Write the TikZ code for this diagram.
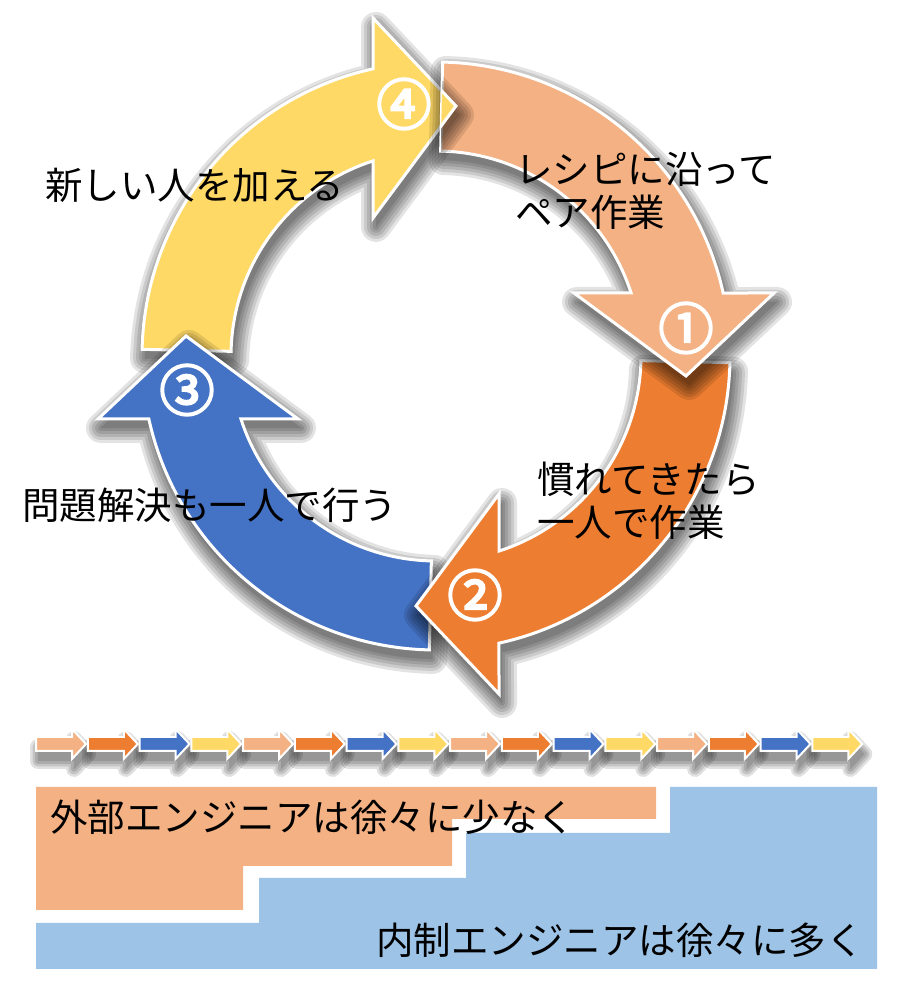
\documentclass[tikz,border=0pt]{standalone}
\usepackage{fontspec}
\newfontfamily\cjk{Noto Sans CJK JP}
\newfontfamily\cjknum{Noto Sans CJK JP}[FakeBold=4]
\definecolor{cpeach}{HTML}{F4B183}
\definecolor{corange}{HTML}{ED7D31}
\definecolor{cblue}{HTML}{4472C4}
\definecolor{cyellow}{HTML}{FFD966}
\definecolor{clight}{HTML}{9DC3E6}

\newcommand\cyclepath{(88.7:205) -- (88.7:294) arc[start angle=88.7,end angle=12.37,radius=294] -- (338,63) -- (250,-20) -- (138,63) -- (17.9:205) arc[start angle=17.9,end angle=88.7,radius=205] -- cycle}
\newcommand\smallpath{(0,7) -- (36,7) -- (36,15) -- (50,0) -- (36,-15) -- (36,-7) -- (0,-7) -- cycle}

\newcommand\bigshadow[1]{%
  \foreach \w in {30,24,18,12,6,0.5}{%
    \begin{scope}[transparency group, opacity=0.11]
      \path (0,0) rectangle (905,981);
      \filldraw[black, line width=\w pt, line join=round, shift={(439,616)}, rotate=#1] \cyclepath;
    \end{scope}}}
\newcommand\bigarrow[2]{%
  \bigshadow{#1}%
  \filldraw[fill=#2, draw=white, line width=3pt, shift={(436,625)}, rotate=#1] \cyclepath;}

\tikzset{
  lbl/.style={font=\cjk\fontsize{37.5}{43}\selectfont, inner sep=0pt, anchor=west, align=left, text=black},
  num/.style={font=\cjknum\fontsize{55}{55}\selectfont, inner sep=0pt, text=white}
}

\begin{document}
\begin{tikzpicture}[x=1pt,y=1pt]
\useasboundingbox (0,0) rectangle (905,981);
\fill[white] (0,0) rectangle (905,981);

% staircase
\fill[cpeach] (36,194) -- (656,194) -- (656,162) -- (452,162) -- (452,115) -- (243,115) -- (243,71) -- (36,71) -- cycle;
\fill[clight] (670,194) -- (877,194) -- (877,12) -- (36,12) -- (36,58) -- (259,58) -- (259,103) -- (466,103) -- (466,148) -- (670,148) -- cycle;

% small arrows: shadows
\foreach \k in {0,1,2,3}{
  \foreach \c [count=\j from 0] in {cpeach,corange,cblue,cyellow}{
    \foreach \w in {16,11,6,0.5}{
      \begin{scope}[transparency group, opacity=0.12]
        \path (0,0) rectangle (905,981);
        \filldraw[black, line width=\w pt, line join=round, shift={({38+51.75*(4*\k+\j)},227)}] \smallpath;
      \end{scope}}}}
% small arrows
\foreach \k in {0,1,2,3}{
  \foreach \c [count=\j from 0] in {cpeach,corange,cblue,cyellow}{
    \filldraw[fill=\c, draw=white, line width=2pt, shift={({36+51.75*(4*\k+\j)},237)}] \smallpath;}}

% cycle arrows
\bigarrow{90}{cyellow}
\bigarrow{180}{cblue}
\bigarrow{-90}{corange}
\bigarrow{0}{cpeach}
\begin{scope}
  \clip[shift={(436,625)}] \cyclepath;
  \bigarrow{90}{cyellow}
\end{scope}

% numbers
\node[num] (n1) at (686,653) {①};
\node[num] (n2) at (475,386) {②};
\node[num] (n3) at (187,591) {③};
\node[num] (n4) at (404,877) {④};

% labels
\node[lbl] (t4) at (45,796) {新しい人を加える};
\node[lbl] (t1) at (515,790.5) {レシピに沿って\\ペア作業};
\node[lbl] (t2) at (537,480) {慣れてきたら\\一人で作業};
\node[lbl] (t3) at (22,476) {問題解決も一人で行う};
\node[lbl] (b1) at (50,164) {外部エンジニアは徐々に少なく};
\node[lbl] (b2) at (376,41) {内制エンジニアは徐々に多く};
\end{tikzpicture}
\end{document}
